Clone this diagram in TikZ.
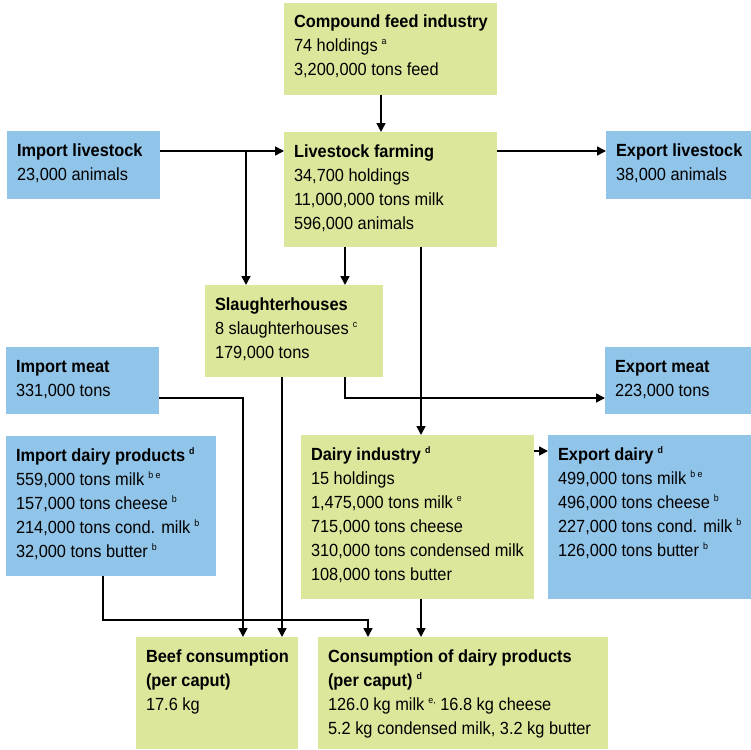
\documentclass[tikz,border=0pt]{standalone}
\usepackage{fontspec}
\setmainfont{Liberation Sans}[FakeStretch=0.93]
\usetikzlibrary{arrows.meta}
\definecolor{boxgreen}{RGB}{221,231,155}
\definecolor{boxblue}{RGB}{145,196,233}
\newcommand\fnm[1]{\hspace{4pt}\raisebox{7pt}{\fontsize{9.5}{9.5}\selectfont #1}}
\newcommand\flowbox[7]{\node[flowbase, fill=#6] (#1) at (#2pt,-#3pt) {\parbox[c][#5pt][t]{#4pt}{\raggedright\leftskip=10pt\rule{0pt}{25pt}#7}};}
\tikzset{
  flowbase/.style={anchor=north west, inner sep=0pt, outer sep=0pt, draw=none, font=\fontsize{17.6pt}{24pt}\selectfont},
  arr/.style={line width=1.6pt, -{Triangle[length=9pt,width=9pt]}},
}
\begin{document}
\begin{tikzpicture}
\useasboundingbox (0,0) rectangle (751pt,-749pt);
\flowbox{feed}{284}{3}{213}{92}{boxgreen}{\textbf{Compound feed industry}\\74 holdings\fnm{a}\\3,200,000 tons feed}
\flowbox{implive}{7}{131}{153}{68}{boxblue}{\textbf{Import livestock}\\23,000 animals}
\flowbox{live}{284}{132}{213}{115}{boxgreen}{\textbf{Livestock farming}\\34,700 holdings\\11,000,000 tons milk\\596,000 animals}
\flowbox{explive}{606}{131}{145}{68}{boxblue}{\textbf{Export livestock}\\38,000 animals}
\flowbox{slaughter}{205}{285}{178}{92}{boxgreen}{\textbf{Slaughterhouses}\\8 slaughterhouses\fnm{c}\\179,000 tons}
\flowbox{impmeat}{6}{347}{153}{67}{boxblue}{\textbf{Import meat}\\331,000 tons}
\flowbox{expmeat}{605}{347}{146}{67}{boxblue}{\textbf{Export meat}\\223,000 tons}
\flowbox{impdairy}{6}{436}{210}{140}{boxblue}{\textbf{Import dairy products\fnm{\textbf{d}}}\\559,000 tons milk\fnm{b e}\\157,000 tons cheese\fnm{b}\\214,000 tons cond. milk\fnm{b}\\32,000 tons butter\fnm{b}}
\flowbox{dairy}{301}{435}{233}{164}{boxgreen}{\textbf{Dairy industry\fnm{\textbf{d}}}\\15 holdings\\1,475,000 tons milk\fnm{e}\\715,000 tons cheese\\310,000 tons condensed milk\\108,000 tons butter}
\flowbox{expdairy}{548}{435}{203}{164}{boxblue}{\textbf{Export dairy\fnm{\textbf{d}}}\\499,000 tons milk\fnm{b e}\\496,000 tons cheese\fnm{b}\\227,000 tons cond. milk\fnm{b}\\126,000 tons butter\fnm{b}}
\flowbox{beef}{136}{637}{162}{112}{boxgreen}{\textbf{Beef consumption}\\\textbf{(per caput)}\\17.6 kg}
\flowbox{consdairy}{318}{637}{290}{112}{boxgreen}{\textbf{Consumption of dairy products}\\\textbf{(per caput)\fnm{\textbf{d}}}\\126.0 kg milk\fnm{e,} 16.8 kg cheese\\5.2 kg condensed milk, 3.2 kg butter}
% helper coordinates
\coordinate (fx) at (381pt,0);
\coordinate (r1) at (0,-151pt);
\coordinate (j1) at (246pt,-151pt);
\coordinate (sx) at (345pt,0);
\coordinate (dx) at (421pt,0);
\coordinate (bx) at (282pt,0);
\coordinate (ix) at (243pt,0);
\coordinate (my) at (0,-398pt);
\coordinate (kx) at (103pt,0);
\coordinate (ky) at (0,-620pt);
\coordinate (cx) at (368pt,0);
\coordinate (ey) at (0,-451pt);
% connectors
\draw[arr] (feed.south -| fx) -- (live.north -| fx);
\draw[arr] (implive.east |- r1) -- (live.west |- r1);
\draw[arr] (j1) -- (slaughter.north -| j1);
\draw[arr] (live.east |- r1) -- (explive.west |- r1);
\draw[arr] (live.south -| sx) -- (slaughter.north -| sx);
\draw[arr] (live.south -| dx) -- (dairy.north -| dx);
\draw[arr] (slaughter.south -| bx) -- (beef.north -| bx);
\draw[arr] (slaughter.south -| sx) |- (expmeat.west |- my);
\draw[arr] (impmeat.east |- my) -| (beef.north -| ix);
\draw[arr] (impdairy.south -| kx) |- (cx |- ky) -- (consdairy.north -| cx);
\draw[arr] (dairy.east |- ey) -- (expdairy.west |- ey);
\draw[arr] (dairy.south -| dx) -- (consdairy.north -| dx);
\end{tikzpicture}
\end{document}
